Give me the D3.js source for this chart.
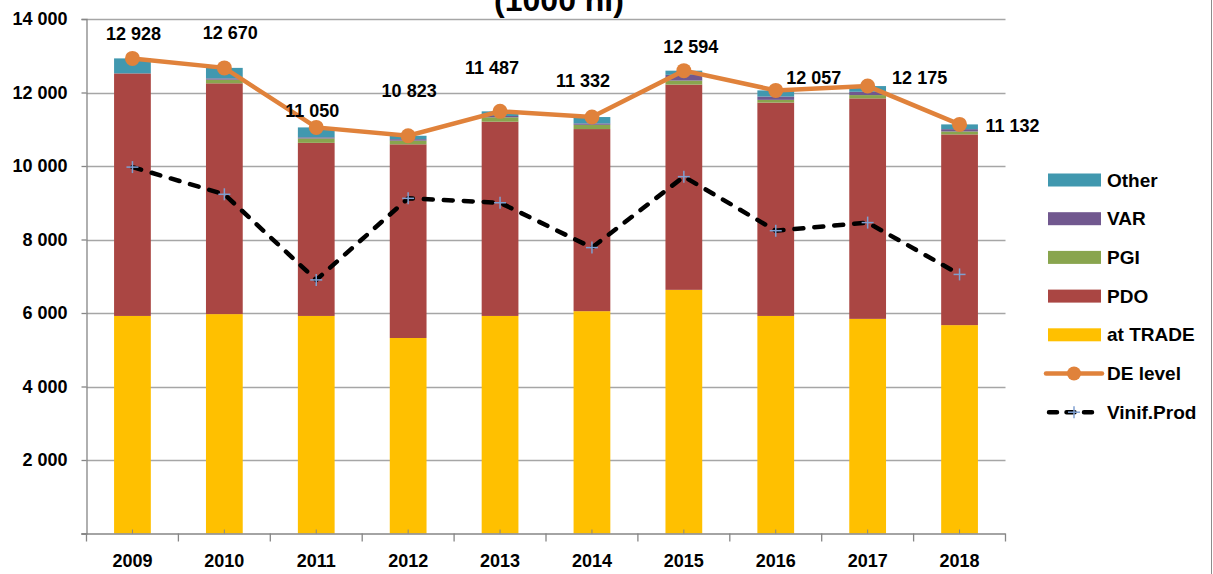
<!DOCTYPE html>
<html>
<head>
<meta charset="utf-8">
<script src="https://cdn.jsdelivr.net/npm/d3@7"></script>
<style>
  html, body { margin: 0; padding: 0; background: #fff; }
  svg { display: block; font-family: "Liberation Sans", Arial, sans-serif; font-weight: bold; }
</style>
</head>
<body>
<svg id="chart" width="1213" height="574"></svg>
<script>
// ---- data ----
const years = ["2009","2010","2011","2012","2013","2014","2015","2016","2017","2018"];
const atTrade = [5920, 5970, 5920, 5320, 5920, 6050, 6630, 5920, 5840, 5670];
const pdo     = [6600, 6280, 4710, 5270, 5285, 4955, 5585, 5805, 6000, 5190];
const pgi     = [0, 100, 120, 100, 120, 117, 110, 75, 90, 80];
const varV    = [0, 35, 30, 40, 36, 38, 155, 90, 90, 63];
const other   = [408, 285, 270, 93, 126, 172, 114, 167, 155, 129];
const deLevel = [12928, 12670, 11050, 10823, 11487, 11332, 12594, 12057, 12175, 11132];
const vinif   = [9970, 9230, 6900, 9120, 9000, 7780, 9710, 8240, 8460, 7050];
const yTicks  = [0, 2000, 4000, 6000, 8000, 10000, 12000, 14000];
const seriesNames = ["at TRADE", "PDO", "PGI", "VAR", "Other"];
const titleText = "(1000 hl)";

// ---- layout / style ----
const colors = {"at TRADE":"#FFC000", "PDO":"#AA4643", "PGI":"#89A54E", "VAR":"#71588F", "Other":"#4198AF"};
const orange = "#E0823B";
const plusColor = "#7F9FD0";
const axisColor = "#868686";
const gridColor = "#A6A6A6";
// label offsets (dx, dy) of DE level value labels relative to their point
const labelOffsets = [[1,-25],[6,-35],[-4,-17],[1,-45],[-8,-44],[-9,-37],[7,-24],[38,-13],[52,-9],[53,1]];

const svg = d3.select("#chart");
const pLeft = 86.5, pRight = 1005.5, pTop = 19, pBottom = 533.5;

const x = d3.scaleBand().domain(years).range([pLeft, pRight]).paddingInner(0.6).paddingOuter(0.3);
const y = d3.scaleLinear().domain([0, 14000]).range([pBottom, pTop]);
const cx = d => x(d) + x.bandwidth() / 2;

const fmt = d3.formatLocale({decimal: ",", thousands: " ", grouping: [3], currency: ["", ""]}).format(",");

// right border
svg.append("line").attr("x1", 1211.5).attr("x2", 1211.5).attr("y1", 0).attr("y2", 574)
  .attr("stroke", "#8c8c8c").attr("stroke-width", 1);

// title (cut off at top, as in the reference)
svg.append("text").attr("x", 559).attr("y", 11).attr("text-anchor", "middle")
  .attr("font-size", 32).attr("fill", "#000").text(titleText);

// gridlines
svg.append("g").selectAll("line").data(yTicks.filter(t => t > 0)).join("line")
  .attr("x1", pLeft).attr("x2", pRight).attr("y1", d => Math.round(y(d)) + 0.5).attr("y2", d => Math.round(y(d)) + 0.5)
  .attr("stroke", gridColor).attr("stroke-width", 1.3);

// y axis
const yAxis = d3.axisLeft(y).tickValues(yTicks).tickSize(5).tickPadding(14).tickFormat(d => d === 0 ? "" : fmt(d));
const yg = svg.append("g").attr("transform", `translate(${pLeft},0)`).call(yAxis);
yg.select(".domain").attr("stroke", axisColor).attr("stroke-width", 1.3);
yg.selectAll(".tick line").attr("stroke", axisColor).attr("stroke-width", 1.3);
yg.selectAll(".tick text").attr("font-size", 18).attr("font-family", "Liberation Sans, Arial, sans-serif")
  .attr("font-weight", "bold").attr("fill", "#000");

// stacked bars
const table = years.map((yr, i) => ({year: yr, "at TRADE": atTrade[i], "PDO": pdo[i], "PGI": pgi[i], "VAR": varV[i], "Other": other[i]}));
const stack = d3.stack().keys(seriesNames)(table);
svg.append("g").selectAll("g").data(stack).join("g").attr("fill", d => colors[d.key])
  .selectAll("rect").data(d => d).join("rect")
  .attr("x", d => x(d.data.year)).attr("width", x.bandwidth())
  .attr("y", d => y(d[1])).attr("height", d => Math.max(0, y(d[0]) - y(d[1])));

// x axis
const xAxis = d3.axisBottom(x).tickSize(0).tickPadding(21);
const xg = svg.append("g").attr("transform", `translate(0,${pBottom})`).call(xAxis);
xg.select(".domain").remove();
xg.selectAll(".tick text").attr("font-size", 18).attr("font-family", "Liberation Sans, Arial, sans-serif")
  .attr("font-weight", "bold").attr("fill", "#000");
svg.append("line").attr("x1", pLeft - 5).attr("x2", pRight).attr("y1", pBottom + 0.5).attr("y2", pBottom + 0.5)
  .attr("stroke", axisColor).attr("stroke-width", 1.3);
const bounds = years.map(yr => x(yr) - x.step() * x.paddingInner() / 2).concat([pRight]);
svg.append("g").selectAll("line").data(bounds).join("line")
  .attr("x1", d => d).attr("x2", d => d).attr("y1", pBottom).attr("y2", pBottom + 8)
  .attr("stroke", axisColor).attr("stroke-width", 1.3);
svg.append("g").selectAll("line").data(years).join("line")
  .attr("x1", d => cx(d)).attr("x2", d => cx(d)).attr("y1", pBottom - 4).attr("y2", pBottom)
  .attr("stroke", axisColor).attr("stroke-width", 1);

// Vinif.Prod dashed line
const lineV = d3.line().x((d, i) => cx(years[i])).y(d => y(d));
svg.append("path").datum(vinif).attr("d", lineV).attr("fill", "none")
  .attr("stroke", "#000").attr("stroke-width", 4.5).attr("stroke-dasharray", "9,11").attr("stroke-linecap", "round");
const plus = svg.append("g").attr("stroke", plusColor).attr("stroke-width", 1.5);
vinif.forEach((v, i) => {
  const px = cx(years[i]), py = y(v);
  plus.append("line").attr("x1", px - 6).attr("x2", px + 6).attr("y1", py).attr("y2", py);
  plus.append("line").attr("x1", px).attr("x2", px).attr("y1", py - 6).attr("y2", py + 6);
});

// DE level line
const lineD = d3.line().x((d, i) => cx(years[i])).y(d => y(d));
svg.append("path").datum(deLevel).attr("d", lineD).attr("fill", "none")
  .attr("stroke", orange).attr("stroke-width", 4.5);
svg.append("g").selectAll("circle").data(deLevel).join("circle")
  .attr("cx", (d, i) => cx(years[i])).attr("cy", d => y(d)).attr("r", 7.5).attr("fill", orange);

// DE level labels
svg.append("g").selectAll("text").data(deLevel).join("text")
  .attr("x", (d, i) => cx(years[i]) + labelOffsets[i][0])
  .attr("y", (d, i) => y(d) + labelOffsets[i][1] + 6.5)
  .attr("text-anchor", "middle").attr("font-size", 18).attr("fill", "#000")
  .text(d => fmt(d));

// legend
const legendItems = ["Other", "VAR", "PGI", "PDO", "at TRADE", "DE level", "Vinif.Prod"];
const lg = svg.append("g");
legendItems.forEach((name, i) => {
  const ly = 180 + i * 38.7;
  if (colors[name]) {
    lg.append("rect").attr("x", 1048).attr("y", ly - 6.5).attr("width", 53).attr("height", 13).attr("fill", colors[name]);
  } else if (name === "DE level") {
    lg.append("line").attr("x1", 1046).attr("x2", 1102).attr("y1", ly).attr("y2", ly)
      .attr("stroke", orange).attr("stroke-width", 4.5).attr("stroke-linecap", "round");
    lg.append("circle").attr("cx", 1074).attr("cy", ly).attr("r", 7).attr("fill", orange);
  } else {
    lg.append("line").attr("x1", 1049).attr("x2", 1096).attr("y1", ly).attr("y2", ly)
      .attr("stroke", "#000").attr("stroke-width", 4.5).attr("stroke-dasharray", "8,9.5").attr("stroke-linecap", "round");
    lg.append("line").attr("x1", 1068).attr("x2", 1080).attr("y1", ly).attr("y2", ly).attr("stroke", plusColor).attr("stroke-width", 1.5);
    lg.append("line").attr("x1", 1074).attr("x2", 1074).attr("y1", ly - 6).attr("y2", ly + 6).attr("stroke", plusColor).attr("stroke-width", 1.5);
  }
  lg.append("text").attr("x", 1107).attr("y", ly + 6.5).attr("font-size", 19).attr("fill", "#000").text(name);
});
</script>
</body>
</html>
